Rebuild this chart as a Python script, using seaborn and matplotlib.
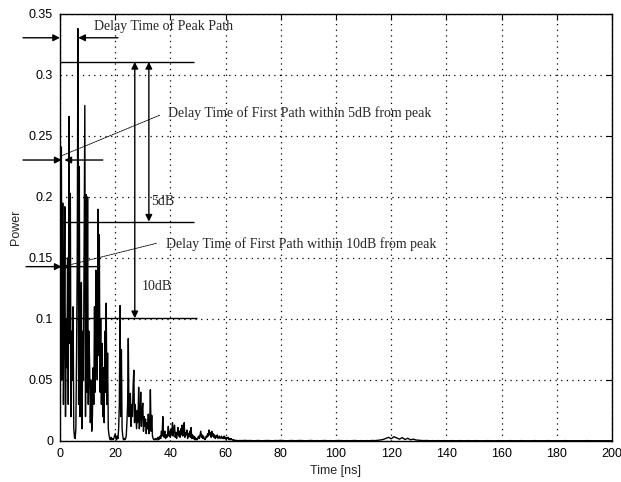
import numpy as np
import pandas as pd
import matplotlib
matplotlib.use("Agg")
import matplotlib.pyplot as plt
import seaborn as sns

# ---------------- data ----------------
# power profile, 0 .. 64.75 ns sampled every 0.25 ns
power_dense = [
    0.020, 0.100, 0.241, 0.050, 0.195, 0.030, 0.090, 0.192,   # 0-2
    0.020, 0.100, 0.060, 0.150, 0.030, 0.266, 0.080, 0.203,   # 2-4
    0.020, 0.090, 0.050, 0.110, 0.010, 0.003, 0.002, 0.010,   # 4-6
    0.070, 0.150, 0.338, 0.030, 0.225, 0.020, 0.080, 0.130,   # 6-8
    0.010, 0.090, 0.050, 0.170, 0.275, 0.020, 0.202, 0.040,   # 8-10
    0.200, 0.030, 0.090, 0.060, 0.015, 0.050, 0.008, 0.020,   # 10-12
    0.060, 0.030, 0.110, 0.040, 0.140, 0.113, 0.050, 0.190,   # 12-14
    0.070, 0.169, 0.040, 0.100, 0.030, 0.080, 0.020, 0.060,   # 14-16
    0.015, 0.090, 0.040, 0.113, 0.030, 0.072, 0.010, 0.005,   # 16-18
    0.002, 0.001, 0.003, 0.001, 0.002, 0.001, 0.002, 0.004,   # 18-20
    0.006, 0.002, 0.001, 0.004, 0.002, 0.010, 0.030, 0.111,   # 20-22
    0.020, 0.075, 0.010, 0.004, 0.001, 0.002, 0.001, 0.002,   # 22-24
    0.004, 0.015, 0.030, 0.084, 0.020, 0.035, 0.039, 0.012,   # 24-26
    0.030, 0.020, 0.045, 0.058, 0.015, 0.030, 0.020, 0.010,   # 26-28
    0.025, 0.015, 0.044, 0.010, 0.020, 0.040, 0.012, 0.025,   # 28-30
    0.031, 0.008, 0.020, 0.012, 0.018, 0.006, 0.015, 0.010,   # 30-32
    0.022, 0.006, 0.012, 0.042, 0.008, 0.021, 0.004, 0.002,   # 32-34
    0.001, 0.001, 0.002, 0.001, 0.002, 0.001, 0.003, 0.001,   # 34-36
    0.002, 0.004, 0.002, 0.008, 0.004, 0.020, 0.006, 0.003,   # 36-38
    0.008, 0.002, 0.005, 0.003, 0.006, 0.012, 0.004, 0.008,   # 38-40
    0.003, 0.010, 0.005, 0.015, 0.004, 0.009, 0.013, 0.003,   # 40-42
    0.007, 0.002, 0.006, 0.011, 0.004, 0.008, 0.003, 0.010,   # 42-44
    0.005, 0.013, 0.004, 0.008, 0.015, 0.003, 0.007, 0.005,   # 44-46
    0.009, 0.002, 0.006, 0.004, 0.008, 0.003, 0.011, 0.002,   # 46-48
    0.005, 0.002, 0.004, 0.001, 0.003, 0.001, 0.002, 0.001,   # 48-50
    0.003, 0.004, 0.002, 0.005, 0.008, 0.003, 0.005, 0.002,   # 50-52
    0.004, 0.002, 0.001, 0.002, 0.004, 0.003, 0.006, 0.004,   # 52-54
    0.009, 0.005, 0.007, 0.003, 0.008, 0.004, 0.006, 0.003,   # 54-56
    0.005, 0.002, 0.004, 0.003, 0.005, 0.002, 0.003, 0.004,   # 56-58
    0.002, 0.003, 0.004, 0.002, 0.003, 0.002, 0.004, 0.002,   # 58-60
    0.003, 0.001, 0.003, 0.002, 0.003, 0.001, 0.002, 0.001,   # 60-62
    0.002, 0.001, 0.001, 0.0005, 0.001, 0.0005, 0.0005, 0.0003,  # 62-64
    0.0005, 0.0003, 0.0003, 0.0002,                             # 64-65
]
dense_step_ns = 0.25

# power profile, 65 .. 200 ns sampled every 1 ns
power_tail = [
    0.0004, 0.0003, 0.0005, 0.0003, 0.0004, 0.0002, 0.0003, 0.0004, 0.0002, 0.0003,  # 65-74
    0.0004, 0.0003, 0.0002, 0.0004, 0.0003, 0.0005, 0.0003, 0.0002, 0.0003, 0.0004,  # 75-84
    0.0002, 0.0003, 0.0004, 0.0003, 0.0002, 0.0003, 0.0004, 0.0002, 0.0003, 0.0002,  # 85-94
    0.0003, 0.0004, 0.0002, 0.0003, 0.0002, 0.0003, 0.0004, 0.0003, 0.0002, 0.0003,  # 95-104
    0.0002, 0.0003, 0.0004, 0.0002, 0.0003, 0.0002, 0.0003, 0.0002, 0.0004, 0.0003,  # 105-114
    0.0005, 0.0008, 0.0012, 0.0020, 0.0030, 0.0018, 0.0035, 0.0025, 0.0015, 0.0028,  # 115-124
    0.0012, 0.0022, 0.0010, 0.0015, 0.0008, 0.0006, 0.0004, 0.0003, 0.0004, 0.0002,  # 125-134
    0.0003, 0.0002, 0.0003, 0.0002, 0.0003, 0.0002, 0.0002, 0.0003, 0.0002, 0.0002,  # 135-144
    0.0003, 0.0002, 0.0002, 0.0003, 0.0002, 0.0002, 0.0003, 0.0002, 0.0002, 0.0002,  # 145-154
    0.0003, 0.0002, 0.0002, 0.0002, 0.0003, 0.0002, 0.0002, 0.0002, 0.0003, 0.0002,  # 155-164
    0.0002, 0.0002, 0.0003, 0.0002, 0.0002, 0.0002, 0.0002, 0.0003, 0.0002, 0.0002,  # 165-174
    0.0002, 0.0002, 0.0003, 0.0002, 0.0002, 0.0002, 0.0002, 0.0002, 0.0003, 0.0002,  # 175-184
    0.0002, 0.0002, 0.0002, 0.0002, 0.0002, 0.0002, 0.0003, 0.0002, 0.0002, 0.0002,  # 185-194
    0.0002, 0.0002, 0.0002, 0.0002, 0.0002, 0.0002,                                  # 195-200
]
tail_start_ns = 65.0
tail_step_ns = 1.0

x_ticks = [0, 20, 40, 60, 80, 100, 120, 140, 160, 180, 200]
y_ticks = [0, 0.05, 0.1, 0.15, 0.2, 0.25, 0.3, 0.35]
y_tick_labels = ["0", "0.05", "0.1", "0.15", "0.2", "0.25", "0.3", "0.35"]
x_label = "Time [ns]"
y_label = "Power"

# annotation levels
peak_level = 0.3107
level_5db = 0.1798
level_10db = 0.1006
peak_time = 6.6
first5_time = 0.6
first5_level = 0.2303
first10_time = 0.6
first10_level = 0.1429
peak_arrow_level = 0.3305

# ---------------- build table ----------------
t_dense = np.arange(len(power_dense)) * dense_step_ns
t_tail = tail_start_ns + np.arange(len(power_tail)) * tail_step_ns
df = pd.DataFrame({
    "time": np.concatenate([t_dense, t_tail]),
    "power": np.concatenate([power_dense, power_tail]),
})

# ---------------- figure ----------------
sns.set_style("white")
plt.rcParams["font.family"] = ["Liberation Sans", "DejaVu Sans"]

fig = plt.figure(figsize=(6.21, 4.82), dpi=100)
ax = fig.add_axes([0.0966, 0.0851, 0.8889, 0.8859])

sns.lineplot(data=df, x="time", y="power", ax=ax, color="black",
             linewidth=1.0, estimator=None, sort=False, zorder=3)

ax.set_xlim(0, 200)
ax.set_ylim(0, 0.35)
ax.set_xticks(x_ticks)
ax.set_yticks(y_ticks)
ax.set_yticklabels(y_tick_labels)
ax.set_xlabel(x_label, fontsize=9, labelpad=4)
ax.set_ylabel(y_label, fontsize=9, labelpad=5)
ax.tick_params(direction="in", length=4, width=0.8, top=True, right=True,
               labelsize=9, colors="black", pad=5)
for s in ax.spines.values():
    s.set_color("black")
    s.set_linewidth(1.0)
    s.set_visible(True)
ax.grid(True, color="black", linestyle=(0, (1, 3.5)), linewidth=0.9)
ax.set_axisbelow(True)

serif = ["Liberation Serif", "DejaVu Serif"]
fs = 10
arr = dict(arrowstyle="-|>", color="black", lw=1.0, mutation_scale=10,
           shrinkA=0, shrinkB=0)
darr = dict(arrowstyle="<|-|>", color="black", lw=1.0, mutation_scale=10,
            shrinkA=0, shrinkB=0)
lead = dict(arrowstyle="-", color="black", lw=0.6, linestyle=(0, (2, 1)),
            shrinkA=0, shrinkB=0)

# reference lines
ax.hlines(peak_level, 0, 48.7, color="black", lw=1.0, zorder=4)
ax.hlines(level_5db, 0, 48.7, color="black", lw=1.0, zorder=4)
ax.hlines(level_10db, 0, 49.8, color="black", lw=1.0, zorder=4)

# vertical double arrows
ax.annotate("", xy=(27.1, peak_level), xytext=(27.1, level_10db),
            arrowprops=darr, zorder=5)
ax.annotate("", xy=(32.2, peak_level), xytext=(32.2, level_5db),
            arrowprops=darr, zorder=5)
ax.text(33.1, 0.196, "5dB", family=serif, fontsize=fs, va="center", ha="left")
ax.text(29.5, 0.1265, "10dB", family=serif, fontsize=fs, va="center", ha="left")

# delay of peak path
ax.annotate("", xy=(0, peak_arrow_level), xytext=(-13.4, peak_arrow_level),
            arrowprops=arr, annotation_clip=False, zorder=5)
ax.annotate("", xy=(peak_time, peak_arrow_level), xytext=(21.0, peak_arrow_level),
            arrowprops=arr, annotation_clip=False, zorder=5)
ax.text(12.2, 0.340, "Delay Time of Peak Path", family=serif, fontsize=fs,
        va="center", ha="left")

# first path within 5 dB
ax.annotate("", xy=(first5_time, first5_level), xytext=(-13.4, first5_level),
            arrowprops=arr, annotation_clip=False, zorder=5)
ax.annotate("", xy=(1.6, first5_level), xytext=(15.5, first5_level),
            arrowprops=arr, annotation_clip=False, zorder=5)
ax.annotate("", xy=(0.8, 0.234), xytext=(36.1, 0.267), arrowprops=lead,
            annotation_clip=False)
ax.text(39.3, 0.269, "Delay Time of First Path within 5dB from peak",
        family=serif, fontsize=fs, va="center", ha="left")

# first path within 10 dB
ax.annotate("", xy=(first10_time, first10_level), xytext=(-12.3, first10_level),
            arrowprops=arr, annotation_clip=False, zorder=5)
ax.annotate("", xy=(1.1, first10_level), xytext=(14.4, first10_level),
            arrowprops=arr, annotation_clip=False, zorder=5)
ax.annotate("", xy=(2.9, 0.144), xytext=(34.9, 0.162), arrowprops=lead,
            annotation_clip=False)
ax.text(38.5, 0.1615, "Delay Time of First Path within 10dB from peak",
        family=serif, fontsize=fs, va="center", ha="left")

fig.savefig("out.png", dpi=100)
